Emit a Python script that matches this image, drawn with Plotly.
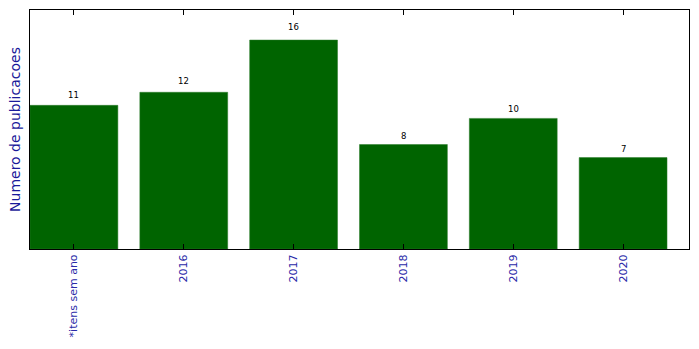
import plotly.graph_objects as go

categories = ["*itens sem ano", "2016", "2017", "2018", "2019", "2020"]
values = [11, 12, 16, 8, 10, 7]

fig = go.Figure(go.Bar(
    x=list(range(len(categories))), y=values, width=0.8,
    marker=dict(color="#006400", line=dict(color="#2a7a2a", width=0.5)),
))

for i, v in enumerate(values):
    fig.add_annotation(x=i, y=v * 1.045, yshift=-2, text=str(v), showarrow=False,
                       yanchor="bottom", xanchor="center", borderpad=0,
                       font=dict(family="DejaVu Sans", size=8.5, color="black"))

fig.update_layout(
    width=699, height=349,
    margin=dict(l=30, r=10, t=10, b=100),
    plot_bgcolor="white", paper_bgcolor="white",
    showlegend=False,
    bargap=0.2,
    xaxis=dict(
        range=[-0.4, 5.6],
        tickmode="array", tickvals=list(range(len(categories))), ticktext=categories,
        showline=True, linecolor="black", linewidth=1, mirror="ticks",
        ticks="inside", ticklen=5, tickcolor="black",
        tickangle=-90,
        tickfont=dict(family="DejaVu Sans", size=11, color="#2a2aa8"),
        showgrid=False, zeroline=False,
    ),
    yaxis=dict(
        range=[0, 18.3],
        showline=True, linecolor="black", linewidth=1, mirror=True,
        showticklabels=False, ticks="", showgrid=False, zeroline=False,
        title=dict(text="Numero de publicacoes", standoff=5,
                   font=dict(family="DejaVu Sans", size=14, color="#1a1a9a")),
    ),
)

fig.write_html("out.html")
